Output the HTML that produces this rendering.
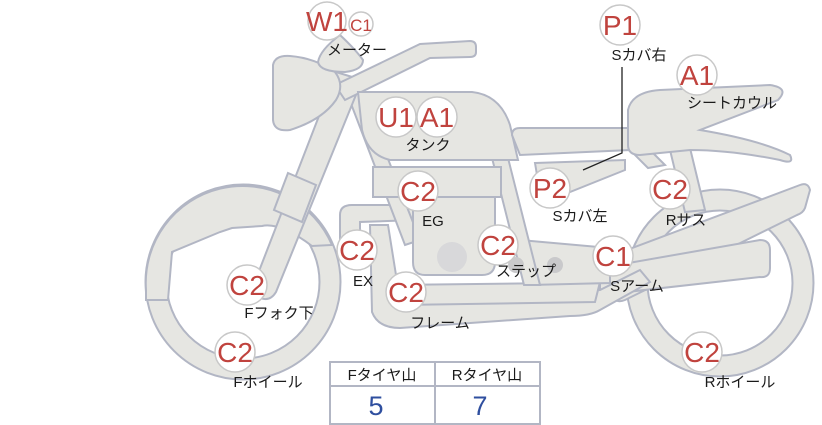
<!DOCTYPE html>
<html><head><meta charset="utf-8"><style>
html,body{margin:0;padding:0;background:#fff;width:822px;height:425px;overflow:hidden}
svg{display:block}
.s{fill:#e6e6e2;stroke:#b2b6c4;stroke-width:2}
.c{fill:#fff;stroke:#c8c8c8;stroke-width:1.5}
.r{fill:#c0433e;font-family:"Liberation Sans",sans-serif;font-size:28px;text-anchor:middle}
.l{fill:#1a1a1a;font-family:"Liberation Sans","Noto Sans CJK JP",sans-serif;font-size:15px;text-anchor:middle}
</style></head><body>
<svg width="822" height="425" viewBox="0 0 822 425">
<!-- wheels -->
<circle cx="243" cy="282" r="87" fill="none" stroke="#b2b6c4" stroke-width="23"/>
<circle cx="243" cy="282" r="87" fill="none" stroke="#e6e6e2" stroke-width="19"/>
<path class="s" d="M146 300 L146 290 A97 97 0 0 1 332 245 L312 246 Q280 222 262 226 L232 228 L220 232 L172 252 L168 300 Z"/>
<circle cx="720" cy="283" r="83" fill="none" stroke="#b2b6c4" stroke-width="23"/>
<circle cx="720" cy="283" r="83" fill="none" stroke="#e6e6e2" stroke-width="19"/>
<!-- rear shock -->
<path class="s" d="M670 150 L690 148 L705 210 L685 212 Z"/>
<!-- swingarm -->
<path class="s" d="M595 262 L800 185 Q808 182 810 190 L805 208 Q803 213 797 215 L625 300 Q615 304 612 295 Z"/>
<path class="s" d="M600 268 L760 240 Q770 240 770 250 L770 268 Q770 278 760 277 L600 295 Z"/>
<!-- frame lower loop -->
<path class="s" d="M370 225 L388 225 L400 300 L600 290 L640 270 L650 282 L600 310 Q590 316 570 316 L400 328 Q378 328 372 312 Z"/>
<path class="s" d="M340 215 Q340 205 352 205 L415 205 L415 220 L360 222 L360 250 L340 250 Z"/>
<path class="s" d="M390 285 L560 283 L600 282 L595 302 L400 305 Z"/>
<!-- step bar -->
<path class="s" d="M520 240 L610 248 L610 283 L530 285 Z"/>
<!-- frame tubes -->
<path class="s" d="M345 88 L360 88 L420 240 L405 245 Z"/>
<path class="s" d="M490 150 L506 150 L540 285 L524 285 Z"/>
<path class="s" d="M630 150 L650 150 L665 165 L648 168 Z"/>
<!-- engine -->
<path class="s" d="M413 195 L495 195 L495 262 Q495 275 482 275 L425 275 Q413 275 413 262 Z"/>
<rect class="s" x="373" y="167" width="128" height="30"/>
<circle cx="452" cy="257" r="15" fill="#d8d8da"/>
<circle cx="516" cy="265" r="8" fill="#c9c9cb"/>
<circle cx="555" cy="265" r="8" fill="#c9c9cb"/>
<!-- fork -->
<path class="s" d="M336 72 L362 80 L276 292 Q270 302 260 298 Q250 293 254 284 Z"/>
<path class="s" d="M288 173 L316 185 L302 222 L274 210 Z"/>
<!-- handlebar -->
<path class="s" d="M335 85 L420 44 L470 41 Q476 41 476 47 L476 52 Q476 57 470 57 L430 58 L345 100 Z"/>
<!-- headlight -->
<path class="s" d="M273 65 Q275 55 290 56 Q315 58 335 72 Q345 85 336 100 Q322 120 290 130 Q274 132 273 120 Z"/>
<!-- meter -->
<path class="s" d="M340 35 Q356 50 363 60 Q363 70 345 72 Q320 72 318 62 Q320 50 340 35 Z"/>
<!-- tank -->
<path class="s" d="M358 92 L472 92 Q500 95 510 125 L518 160 L390 160 Q368 155 362 130 Z"/>
<!-- seat -->
<path class="s" d="M512 135 Q512 128 520 128 L628 128 L630 150 L520 155 Z"/>
<path class="s" d="M628 110 Q632 92 660 90 L770 85 Q790 88 778 100 L700 130 Q760 140 790 155 Q795 165 780 160 Q730 150 690 150 L640 155 Q628 155 628 145 Z"/>
<!-- side cover -->
<path class="s" d="M535 163 L625 160 L625 170 L570 192 L540 193 Z"/>
<!-- leader -->
<path d="M622 67 L622 153 L583 170" fill="none" stroke="#222" stroke-width="1.3"/>
<!-- badges -->
<g>
<circle class="c" cx="327" cy="21" r="19"/><text class="r" x="327" y="31">W1</text>
<circle class="c" cx="361" cy="24" r="12"/><text class="r" x="361" y="31" style="font-size:17px">C1</text>
<circle class="c" cx="396" cy="117" r="20"/><text class="r" x="396" y="127">U1</text>
<circle class="c" cx="437" cy="117" r="20"/><text class="r" x="437" y="127">A1</text>
<circle class="c" cx="620" cy="25" r="20"/><text class="r" x="620" y="35">P1</text>
<circle class="c" cx="697" cy="75" r="20"/><text class="r" x="697" y="85">A1</text>
<circle class="c" cx="418" cy="191" r="20"/><text class="r" x="418" y="201">C2</text>
<circle class="c" cx="550" cy="188" r="20"/><text class="r" x="550" y="198">P2</text>
<circle class="c" cx="670" cy="189" r="20"/><text class="r" x="670" y="199">C2</text>
<circle class="c" cx="357" cy="250" r="20"/><text class="r" x="357" y="260">C2</text>
<circle class="c" cx="498" cy="245" r="20"/><text class="r" x="498" y="255">C2</text>
<circle class="c" cx="613" cy="256" r="20"/><text class="r" x="613" y="266">C1</text>
<circle class="c" cx="247" cy="285" r="20"/><text class="r" x="247" y="295">C2</text>
<circle class="c" cx="406" cy="292" r="20"/><text class="r" x="406" y="302">C2</text>
<circle class="c" cx="235" cy="352" r="20"/><text class="r" x="235" y="362">C2</text>
<circle class="c" cx="702" cy="352" r="20"/><text class="r" x="702" y="362">C2</text>
</g>
<g>
<text class="l" x="357" y="55">メーター</text>
<text class="l" x="639" y="60">Sカバ右</text>
<text class="l" x="732" y="108">シートカウル</text>
<text class="l" x="428" y="150">タンク</text>
<text class="l" x="433" y="226">EG</text>
<text class="l" x="580" y="221">Sカバ左</text>
<text class="l" x="686" y="225">Rサス</text>
<text class="l" x="363" y="286">EX</text>
<text class="l" x="526" y="276">ステップ</text>
<text class="l" x="637" y="291">Sアーム</text>
<text class="l" x="279" y="318">Fフォク下</text>
<text class="l" x="440" y="328">フレーム</text>
<text class="l" x="268" y="387">Fホイール</text>
<text class="l" x="740" y="387">Rホイール</text>
</g>
<!-- table -->
<rect x="330" y="362" width="210" height="62" fill="#fff" stroke="#b2b6c4" stroke-width="2"/>
<line x1="330" y1="386" x2="540" y2="386" stroke="#b2b6c4" stroke-width="2"/>
<line x1="435" y1="362" x2="435" y2="424" stroke="#b2b6c4" stroke-width="2"/>
<text class="l" x="382" y="380">Fタイヤ山</text>
<text class="l" x="487" y="380">Rタイヤ山</text>
<text x="376" y="415" style="fill:#2f4f9f;font-family:'Liberation Sans',sans-serif;font-size:27px;text-anchor:middle">5</text>
<text x="480" y="415" style="fill:#2f4f9f;font-family:'Liberation Sans',sans-serif;font-size:27px;text-anchor:middle">7</text>
</svg>
</body></html>
